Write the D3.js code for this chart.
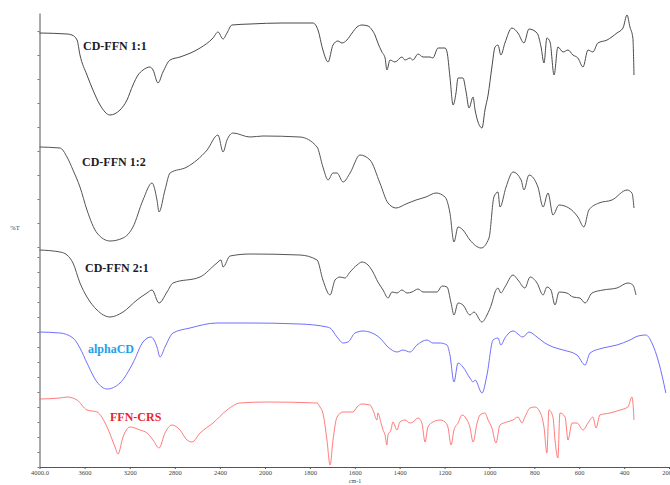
<!DOCTYPE html>
<html>
<head>
<meta charset="utf-8">
<script src="https://cdn.jsdelivr.net/npm/d3@7"></script>
<style>
  body { margin: 0; background: #fff; }
  svg { display: block; }
</style>
</head>
<body>
<div id="ftir"></div>
<script>
// wavenumber (cm-1) / stacked %T (arbitrary offset units)
const cd11 = [[4000,434],[3756,433],[3712,432],[3667,427],[3641,412],[3579,392],[3526,377],[3463,362],[3375,352],[3286,357],[3224,367],[3171,382],[3126,392],[3082,397],[3020,400],[2993,397],[2949,384],[2905,395],[2842,407],[2754,410],[2576,419],[2461,429],[2417,435],[2372,428],[2337,434],[2293,442],[2133,443],[1920,444],[1786,444],[1764,437],[1742,417],[1719,405],[1697,422],[1675,426],[1657,424],[1635,427],[1612,434],[1590,440],[1568,442],[1541,441],[1523,437],[1510,432],[1497,424],[1479,415],[1465,409],[1457,397],[1443,407],[1421,405],[1390,410],[1376,407],[1354,409],[1341,407],[1318,413],[1296,410],[1265,410],[1252,409],[1229,419],[1198,419],[1189,415],[1176,390],[1162,362],[1149,374],[1140,389],[1118,389],[1104,375],[1091,359],[1073,370],[1064,357],[1033,339],[1020,357],[1006,372],[989,400],[975,420],[962,422],[949,412],[931,424],[900,439],[873,434],[846,424],[824,438],[788,434],[770,420],[757,404],[744,429],[730,425],[712,392],[695,420],[672,415],[650,417],[628,412],[606,409],[583,400],[561,417],[539,415],[517,424],[476,427],[432,434],[405,439],[387,452],[374,440],[361,429],[356,392]];

const cd12 = [[4000,320],[3818,319],[3756,310],[3703,297],[3641,280],[3579,257],[3490,234],[3375,226],[3259,229],[3171,240],[3082,267],[3002,284],[2958,267],[2940,255],[2887,277],[2842,294],[2692,300],[2514,317],[2417,332],[2372,315],[2337,327],[2284,334],[2133,330],[2018,331],[1844,330],[1768,320],[1742,300],[1719,287],[1697,294],[1679,294],[1652,285],[1621,294],[1577,312],[1532,307],[1488,284],[1452,264],[1416,259],[1372,263],[1327,267],[1283,270],[1238,274],[1198,270],[1176,254],[1158,225],[1140,240],[1118,237],[1087,227],[1037,219],[1002,229],[980,270],[962,275],[953,260],[926,280],[895,295],[859,287],[846,277],[824,292],[784,280],[761,260],[739,274],[717,252],[690,262],[646,259],[606,250],[579,240],[557,257],[512,264],[454,267],[387,277],[365,274],[356,259]];

const cd21 = [[4000,217],[3818,215],[3756,212],[3703,204],[3641,184],[3579,170],[3490,157],[3375,150],[3259,155],[3135,167],[3047,174],[3002,177],[2940,164],[2869,175],[2816,184],[2576,190],[2426,204],[2390,207],[2372,200],[2310,211],[2133,213],[1844,212],[1768,207],[1742,187],[1710,172],[1688,187],[1666,190],[1644,189],[1621,195],[1590,202],[1568,205],[1541,202],[1519,195],[1497,185],[1474,177],[1452,169],[1434,175],[1412,174],[1390,177],[1367,174],[1345,175],[1318,178],[1296,175],[1234,175],[1211,181],[1189,180],[1171,164],[1158,152],[1140,164],[1118,162],[1087,152],[1069,155],[1033,145],[1011,152],[989,164],[975,175],[962,179],[949,174],[931,180],[895,192],[873,187],[842,179],[819,190],[788,184],[761,172],[744,180],[726,177],[708,162],[690,175],[655,174],[628,170],[597,169],[574,164],[543,174],[494,177],[432,179],[383,184],[361,182],[347,172]];

const alphaCD = [[4000,135],[3818,134],[3703,129],[3641,119],[3579,104],[3490,85],[3401,78],[3286,84],[3171,104],[3082,125],[3011,130],[2958,120],[2931,110],[2887,120],[2816,134],[2665,139],[2426,144],[2133,144],[1844,143],[1724,140],[1710,139],[1679,130],[1652,124],[1630,125],[1599,134],[1563,136],[1523,134],[1488,129],[1452,120],[1412,115],[1385,117],[1354,115],[1323,122],[1278,127],[1252,124],[1220,124],[1189,122],[1176,112],[1158,85],[1140,104],[1118,100],[1087,89],[1073,85],[1064,87],[1033,74],[1011,92],[984,127],[962,129],[949,122],[931,129],[895,136],[851,130],[824,135],[788,130],[753,124],[717,120],[672,117],[610,112],[574,102],[552,114],[494,119],[432,122],[374,127],[338,131],[303,132],[276,124],[245,104],[214,74]];

const ffnCRS = [[4000,68],[3818,69],[3756,70],[3667,67],[3579,57],[3490,55],[3401,40],[3330,20],[3304,13],[3259,30],[3197,40],[3109,37],[3047,34],[2993,27],[2940,19],[2887,34],[2825,42],[2754,37],[2692,27],[2647,25],[2576,34],[2461,44],[2337,57],[2222,64],[1991,65],[1768,64],[1755,60],[1742,54],[1724,27],[1710,2],[1697,27],[1679,50],[1652,55],[1608,55],[1590,60],[1568,63],[1532,62],[1519,57],[1501,47],[1497,54],[1483,44],[1474,37],[1465,32],[1457,22],[1452,32],[1439,37],[1430,45],[1412,37],[1399,45],[1376,47],[1354,44],[1341,45],[1318,49],[1301,44],[1287,25],[1274,40],[1252,45],[1220,47],[1198,45],[1185,40],[1171,22],[1158,37],[1140,44],[1122,52],[1100,47],[1087,40],[1073,25],[1055,44],[1042,52],[1020,54],[1006,47],[989,39],[971,24],[953,42],[922,45],[895,47],[873,50],[855,44],[842,50],[819,59],[797,60],[775,55],[757,40],[744,14],[735,57],[717,50],[708,27],[695,9],[686,54],[663,50],[650,27],[632,44],[610,44],[583,37],[561,44],[539,50],[525,39],[508,52],[463,54],[418,57],[383,60],[365,70],[361,65],[356,47]];

const seriesNames = ["CD-FFN 1:1", "CD-FFN 1:2", "CD-FFN 2:1", "alphaCD", "FFN-CRS"];
const seriesData = [cd11, cd12, cd21, alphaCD, ffnCRS];
const xTicks = [4000, 3600, 3200, 2800, 2400, 2000, 1800, 1600, 1400, 1200, 1000, 800, 600, 400, 200];

var width = 670;
var height = 485;

var svg = d3.select("#ftir")
    .append("svg")
    .attr("width", width)
    .attr("height", height);

// x axis changes scale at 2000 cm-1, like the instrument plot
const x = d3.scaleLinear()
    .domain([4000, 2000, 200])
    .range([39.5, 265, 669]);

const y = d3.scaleLinear()
    .domain([0, 454])
    .range([467, 13]);

svg.append("g")
    .attr("transform", "translate(0,467)")
    .call(d3.axisBottom(x)
        .tickValues(xTicks)
        .tickSize(2)
        .tickSizeOuter(0)
        .tickFormat(d => (d === 4000 || d === 200) ? d3.format(".1f")(d) : d))
    .call(g => g.select(".domain").attr("stroke", "#555"))
    .call(g => g.selectAll(".tick line").attr("stroke", "#555"))
    .call(g => g.selectAll("text")
        .attr("font-family", "Liberation Serif")
        .attr("font-size", 6.5)
        .attr("fill", "#444")
        .attr("dy", "0.5em"));

// unlabelled %T ticks: wider in the upper part, finer below
const yTickVals = d3.range(0, 217, 15).concat(d3.range(220, 455, 24));
svg.append("g")
    .attr("transform", "translate(39.5,0)")
    .call(d3.axisLeft(y).tickValues(yTickVals).tickSize(2).tickSizeOuter(0).tickFormat(""))
    .call(g => g.select(".domain").attr("stroke", "#555"))
    .call(g => g.selectAll(".tick line").attr("stroke", "#777"));

svg.append("text")
    .attr("x", 355)
    .attr("y", 483)
    .attr("text-anchor", "middle")
    .attr("font-family", "Liberation Serif")
    .attr("font-size", 6)
    .attr("fill", "#444")
    .text("cm-1");

svg.append("text")
    .attr("x", 15)
    .attr("y", 230)
    .attr("text-anchor", "middle")
    .attr("font-family", "Liberation Serif")
    .attr("font-size", 6.5)
    .attr("fill", "#444")
    .text("%T");

const lineColors = ["#4a4a4a", "#555555", "#555555", "#6f6fff", "#ff5a5a"];
const lineWidths = [1, 1, 1, 1, 0.8];

const line = d3.line()
    .x(d => x(d[0]))
    .y(d => y(d[1]))
    .curve(d3.curveMonotoneX);

svg.append("g")
    .selectAll("path")
    .data(seriesData)
    .join("path")
    .attr("d", line)
    .attr("fill", "none")
    .attr("stroke", (d, i) => lineColors[i])
    .attr("stroke-width", (d, i) => lineWidths[i])
    .attr("stroke-linejoin", "round");

// labels sit next to each trace
const labelPos = [[83, 50], [82, 166], [85, 272], [88, 353], [110, 421]];
const labelColors = ["#1c1c28", "#1c1c28", "#1c1c28", "#1fa0e6", "#e8262a"];

svg.append("g")
    .selectAll("text")
    .data(seriesNames)
    .join("text")
    .attr("x", (d, i) => labelPos[i][0])
    .attr("y", (d, i) => labelPos[i][1])
    .attr("font-family", "Liberation Serif")
    .attr("font-weight", "bold")
    .attr("font-size", 12)
    .attr("fill", (d, i) => labelColors[i])
    .text(d => d);
</script>
</body>
</html>
